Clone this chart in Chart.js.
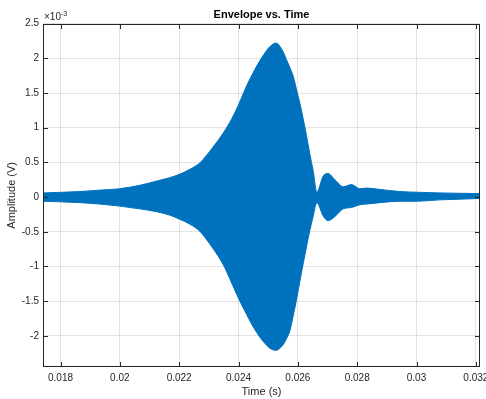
<!DOCTYPE html>
<html>
<head>
<meta charset="utf-8">
<script src="https://cdn.jsdelivr.net/npm/chart.js@4/dist/chart.umd.min.js"></script>
<style>
  html, body { margin: 0; padding: 0; background: #ffffff; }
  #wrap { width: 486px; height: 399px; }
</style>
</head>
<body>
<div id="wrap"><canvas id="c" width="486" height="399"></canvas></div>
<script>
// Sample times (s) along the envelope
const timeS = [
  0.01741, 0.01865, 0.01932, 0.01999, 0.02067, 0.02123, 0.02168, 0.02202,
  0.02236, 0.02269, 0.02290, 0.02314, 0.02348, 0.02371, 0.02399, 0.02427,
  0.02455, 0.02483, 0.02506, 0.02526, 0.02550, 0.02562, 0.02573, 0.02584,
  0.02595, 0.02607, 0.02618, 0.02629, 0.02640, 0.02652, 0.02664, 0.02685,
  0.02702, 0.02725, 0.02753, 0.02781, 0.02809, 0.02832, 0.02877, 0.02944,
  0.03000, 0.03079, 0.03146, 0.03214
];
// Upper envelope of the signal (x10^-3 V)
const upperEnv = [
  0.06, 0.08, 0.10, 0.12, 0.17, 0.23, 0.28, 0.33,
  0.40, 0.49, 0.59, 0.72, 0.92, 1.08, 1.32, 1.60,
  1.84, 2.04, 2.17, 2.22, 2.10, 1.98, 1.87, 1.75,
  1.56, 1.35, 1.13, 0.89, 0.63, 0.37, 0.07, 0.30,
  0.34, 0.25, 0.15, 0.18, 0.12, 0.13, 0.11, 0.08,
  0.07, 0.06, 0.055, 0.05
];
// Lower envelope of the signal (x10^-3 V)
const lowerEnv = [
  -0.06, -0.08, -0.10, -0.13, -0.17, -0.21, -0.26, -0.32,
  -0.39, -0.49, -0.60, -0.74, -0.97, -1.18, -1.45, -1.69,
  -1.91, -2.08, -2.18, -2.21, -2.13, -2.04, -1.93, -1.72,
  -1.49, -1.21, -0.96, -0.72, -0.49, -0.27, -0.08, -0.27,
  -0.34, -0.28, -0.17, -0.15, -0.11, -0.10, -0.08, -0.06,
  -0.06, -0.04, -0.03, -0.02
];
// Axis ticks
const xTicks = [0.018, 0.020, 0.022, 0.024, 0.026, 0.028, 0.030, 0.032];
const yTicks = [-2, -1.5, -1, -0.5, 0, 0.5, 1, 1.5, 2, 2.5];
const xRange = [0.01741, 0.03214];
const yRange = [-2.45, 2.5];

const BLUE = '#0072BD';
const INK = '#262626';
const FONT = '"Liberation Sans", Arial, Helvetica, sans-serif';

Chart.defaults.font.family = FONT;
Chart.defaults.color = INK;

// Box around the axes, inward tick marks and the axis multiplier
const axesFrame = {
  id: 'axesFrame',
  afterDatasetsDraw(chart) {
    const { ctx, chartArea: a, scales: { x, y } } = chart;
    const L = Math.round(a.left) + 0.5, R = Math.round(a.right) - 0.5;
    const T = Math.round(a.top) + 0.5, B = Math.round(a.bottom) - 0.5;
    const len = 4.5;
    ctx.save();
    ctx.strokeStyle = INK;
    ctx.lineWidth = 1;
    ctx.strokeRect(L, T, R - L, B - T);
    ctx.beginPath();
    x.ticks.forEach(t => {
      const px = Math.round(x.getPixelForValue(t.value)) + 0.5;
      ctx.moveTo(px, B); ctx.lineTo(px, B - len);
      ctx.moveTo(px, T); ctx.lineTo(px, T + len);
    });
    y.ticks.forEach(t => {
      const py = Math.round(y.getPixelForValue(t.value)) + 0.5;
      ctx.moveTo(L, py); ctx.lineTo(L + len, py);
      ctx.moveTo(R, py); ctx.lineTo(R - len, py);
    });
    ctx.stroke();

    ctx.fillStyle = INK;
    ctx.textAlign = 'left';
    ctx.textBaseline = 'alphabetic';
    ctx.font = '10px ' + FONT;
    const base = '\u00d710';
    ctx.fillText(base, L + 0.5, T - 4.5);
    const w = ctx.measureText(base).width;
    ctx.font = '7px ' + FONT;
    ctx.fillText('-3', L + 0.5 + w, T - 9);
    ctx.restore();
  }
};

const toPoints = vals => timeS.map((t, i) => ({ x: t, y: vals[i] }));

new Chart(document.getElementById('c'), {
  type: 'line',
  data: {
    datasets: [
      {
        label: 'upper',
        data: toPoints(upperEnv),
        borderColor: BLUE,
        backgroundColor: BLUE,
        borderWidth: 1,
        pointRadius: 0,
        cubicInterpolationMode: 'monotone',
        fill: '+1'
      },
      {
        label: 'lower',
        data: toPoints(lowerEnv),
        borderColor: BLUE,
        backgroundColor: BLUE,
        borderWidth: 1,
        pointRadius: 0,
        cubicInterpolationMode: 'monotone',
        fill: false
      }
    ]
  },
  options: {
    responsive: false,
    animation: false,
    devicePixelRatio: 1,
    events: [],
    layout: { padding: { left: 0, right: 6, top: 0, bottom: 0 } },
    plugins: {
      legend: { display: false },
      tooltip: { enabled: false },
      title: {
        display: true,
        text: 'Envelope vs. Time',
        fullSize: false,
        color: '#000000',
        font: { size: 11, weight: 'bold' },
        padding: { top: 8, bottom: 2.5 }
      }
    },
    scales: {
      x: {
        type: 'linear',
        min: xRange[0],
        max: xRange[1],
        afterBuildTicks: s => { s.ticks = xTicks.map(v => ({ value: v })); },
        afterFit: s => { s.height = 32; s.paddingLeft = 0; s.paddingRight = 0; },
        ticks: {
          padding: 5,
          color: INK,
          font: { size: 10 },
          maxRotation: 0,
          autoSkip: false,
          callback: v => String(Math.round(v * 1000) / 1000)
        },
        grid: { color: 'rgba(38,38,38,0.13)', lineWidth: 1, drawTicks: false },
        border: { display: false },
        title: {
          display: true,
          text: 'Time (s)',
          color: INK,
          font: { size: 11 },
          padding: { top: 0, bottom: 0 }
        }
      },
      y: {
        type: 'linear',
        min: yRange[0],
        max: yRange[1],
        afterBuildTicks: s => { s.ticks = yTicks.map(v => ({ value: v })); },
        afterFit: s => { s.width = 43; s.paddingTop = 0; s.paddingBottom = 0; },
        ticks: {
          padding: 4,
          color: INK,
          font: { size: 10 },
          autoSkip: false,
          callback: v => String(Math.round(v * 10) / 10)
        },
        grid: { color: 'rgba(38,38,38,0.13)', lineWidth: 1, drawTicks: false },
        border: { display: false },
        title: {
          display: true,
          text: 'Amplitude (V)',
          color: INK,
          font: { size: 11 },
          padding: { top: 5, bottom: 0 }
        }
      }
    }
  },
  plugins: [axesFrame]
});
</script>
</body>
</html>
